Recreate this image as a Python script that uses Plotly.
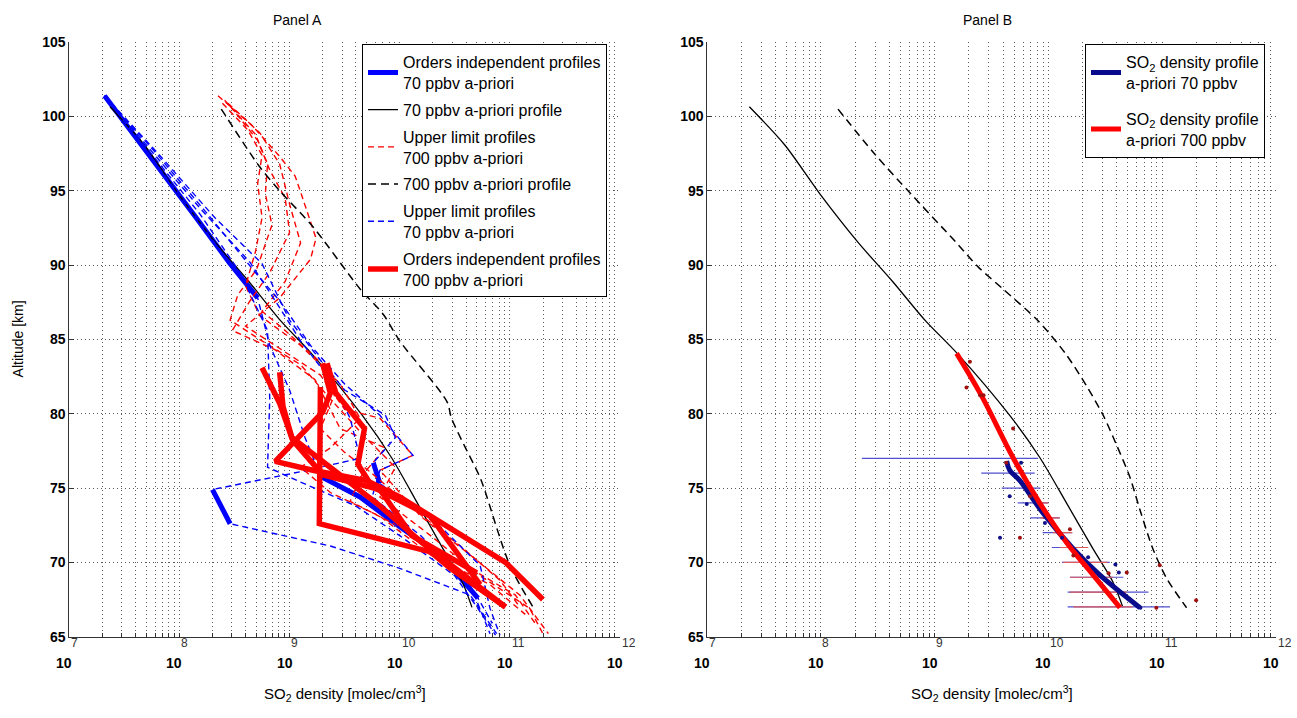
import numpy as np
import plotly.graph_objects as go

# ---------------- data (log10 of SO2 density in molec/cm3, altitude km) ----------------
# 70 ppbv a-priori profile (both panels)
apr70_alt = [100.66, 98.1, 94.8, 91.5, 88.9, 86.25, 84.08, 79.87, 77.04, 73.95, 70.92, 68.68, 66.97]
apr70_log = [7.37, 7.68, 7.99, 8.33, 8.63, 8.92, 9.196, 9.662, 9.926, 10.163, 10.392, 10.568, 10.656]

# 700 ppbv a-priori profile as drawn in panel A
apr700A_alt = [100.5, 96.6, 95.0, 92.6, 88.4, 86.7, 84.9, 80.8, 79.7, 75.7, 74.9, 69.8, 67.0]
apr700A_log = [8.38, 8.73, 8.91, 9.21, 9.64, 9.85, 10.0, 10.43, 10.47, 10.73, 10.77, 11.0, 11.21]

# 700 ppbv a-priori profile as drawn in panel B
apr700B_alt = [100.5, 97.5, 94.8, 91.6, 89.9, 88.4, 86.25, 84.06, 81.86, 79.89, 77.9, 75.72, 73.53, 70.9, 68.93, 66.95]
apr700B_log = [8.15, 8.47, 8.79, 9.18, 9.38, 9.60, 9.91, 10.15, 10.337, 10.483, 10.60, 10.718, 10.806, 10.92, 11.04, 11.216]

# Panel A: upper limit profiles, 70 ppbv a-priori (blue dashed)
blue_alt = [
    [101.4, 97.6, 93.4, 89.5, 85.6, 81.0, 76.4, 75.4, 73.8, 71.8, 69.1, 66.9, 65.1],
    [101.4, 97.6, 93.4, 89.5, 87.6, 84.6, 82.0, 79.9, 77.2, 76.2, 74.4, 71.8, 68.5, 65.2],
    [101.4, 97.8, 93.8, 90.2, 87.6, 84.9, 82.3, 79.7, 77.0, 76.1, 74.9, 72.6, 71.1, 69.6, 67.8, 65.2],
    [101.4, 97.4, 93.2, 90.1, 86.3, 83.6, 81.6, 79.9, 78.4, 76.7, 75.3, 72.4, 69.8, 66.9, 65.1],
    [101.4, 97.4, 93.3, 90.1, 87.8, 84.6, 81.6, 78.4, 75.8, 74.4, 72.4, 70.5, 67.6, 65.9],
]
blue_log = [
    [7.32, 7.73, 8.19, 8.55, 8.80, 8.82, 8.80, 9.10, 9.60, 10.00, 10.50, 10.71, 10.87],
    [7.32, 7.78, 8.26, 8.69, 8.91, 9.19, 9.50, 9.82, 10.12, 9.82, 9.75, 10.19, 10.64, 10.82],
    [7.32, 7.73, 8.19, 8.64, 8.87, 9.10, 9.37, 9.55, 9.64, 9.10, 8.30, 8.46, 9.37, 10.00, 10.64, 10.88],
    [7.32, 7.82, 8.32, 8.75, 9.00, 9.28, 9.50, 9.87, 9.96, 9.76, 9.82, 10.37, 10.73, 10.82, 10.91],
    [7.32, 7.73, 8.14, 8.46, 8.71, 8.82, 9.00, 9.14, 9.28, 9.64, 10.00, 10.37, 10.71, 10.84],
]
# order-independent parts of the 70 ppbv profiles: (profile, first point, last point)
blue_thick_parts = [(4, 0, 4), (4, 8, 12), (2, 10, 11), (3, 9, 10)]

# Panel A: upper limit profiles, 700 ppbv a-priori (red dashed)
red_alt = [
    [101.4, 99.4, 97.4, 96.0, 94.7, 91.8, 90.4, 87.8, 85.9, 84.6, 82.6, 80.3, 79.7, 77.2, 76.2, 73.1, 70.5, 67.8, 65.2],
    [101.1, 98.8, 96.8, 94.8, 92.7, 89.7, 88.0, 86.3, 84.9, 83.3, 81.0, 78.4, 76.4, 74.4, 71.8, 69.1, 66.9, 65.2],
    [100.7, 98.4, 96.4, 94.5, 92.2, 89.5, 87.6, 85.6, 84.3, 82.3, 79.0, 77.7, 75.7, 74.1, 72.4, 69.8, 67.8, 65.9],
    [100.9, 99.1, 97.4, 95.5, 93.2, 90.9, 88.6, 86.6, 84.6, 82.0, 79.7, 77.7, 76.4, 74.7, 73.1, 70.5, 68.5, 66.5],
    [100.9, 98.9, 96.8, 94.1, 91.5, 88.9, 86.9, 85.6, 83.6, 81.3, 79.0, 77.4, 76.1, 73.8, 71.1, 68.8, 67.0],
]
red_log = [
    [8.35, 8.66, 8.90, 9.05, 9.11, 9.24, 9.19, 8.91, 8.60, 8.87, 9.28, 9.50, 9.82, 10.12, 9.82, 10.19, 10.64, 11.09, 11.35],
    [8.41, 8.69, 8.80, 8.78, 8.84, 8.70, 8.53, 8.46, 8.75, 9.10, 9.37, 9.69, 9.96, 9.82, 10.28, 10.73, 11.18, 11.30],
    [8.46, 8.71, 8.82, 8.96, 9.00, 8.82, 8.64, 8.48, 8.87, 9.23, 9.46, 9.87, 9.64, 9.55, 10.00, 10.59, 11.05, 11.23],
    [8.39, 8.62, 8.75, 8.71, 8.75, 8.69, 8.60, 8.73, 9.10, 9.46, 9.64, 9.37, 9.10, 9.37, 9.82, 10.28, 10.82, 11.14],
    [8.44, 8.73, 8.91, 9.00, 9.10, 8.96, 8.75, 8.96, 9.26, 9.41, 9.28, 9.50, 9.73, 10.09, 10.55, 10.91, 11.09],
]

# Panel A: orders independent profiles, 700 ppbv a-priori (red thick)
redthick_alt = [
    [83.1, 80.7, 78.2, 75.9, 74.9, 71.8, 69.3],
    [83.4, 81.4, 79.0, 76.6, 75.1, 73.1, 68.5],
    [81.8, 77.0, 72.6, 71.8, 70.7, 69.6, 67.0],
    [83.4, 81.4, 80.1, 78.2, 76.8, 76.2, 75.5, 74.4, 70.0, 67.5],
    [82.8, 80.5, 78.4, 76.4, 73.8, 71.4, 67.0],
]
redthick_log = [
    [8.75, 8.91, 9.03, 9.30, 9.82, 10.11, 10.70],
    [9.34, 9.42, 9.68, 9.62, 9.75, 10.28, 10.73],
    [9.28, 9.28, 9.27, 9.70, 10.28, 10.46, 10.96],
    [9.30, 9.37, 9.30, 9.05, 8.87, 9.21, 9.70, 10.00, 10.96, 11.30],
    [8.91, 8.94, 9.02, 9.37, 9.82, 10.19, 10.96],
]

# Panel B: retrieved SO2 density profiles
profB700_alt = [84.06, 81.2, 77.04, 73.97, 71.34, 69.14, 66.95]
profB700_log = [9.193, 9.413, 9.69, 9.926, 10.16, 10.395, 10.63]
profB70_alt = [76.82, 76.2, 75.5, 73.3, 70.9, 69.14, 66.95]
profB70_log = [9.633, 9.66, 9.75, 9.955, 10.22, 10.454, 10.806]

# Panel B: error ranges (horizontal bars)
errB70_alt = [77, 76, 75, 74, 73, 72, 71, 70, 69, 68, 67]
errB70_lo = [8.36, 9.41, 9.59, 9.73, 9.84, 9.95, 10.03, 10.12, 10.19, 10.17, 10.17]
errB70_hi = [9.91, 9.88, 9.93, 10.00, 10.10, 10.21, 10.35, 10.54, 10.66, 10.88, 11.07]
errB700_alt = [74, 73, 72, 71, 70, 69, 68, 67]
errB700_lo = [9.88, 9.93, 10.04, 10.10, 10.13, 10.19, 10.19, 10.22]
errB700_hi = [10.00, 10.10, 10.21, 10.35, 10.52, 10.57, 10.69, 10.74]

# Panel B: individual retrievals (dots)
dotsB700_log = [9.31, 9.28, 9.40, 9.43, 9.69, 9.63, 9.84, 9.75, 10.19, 10.22, 10.53, 10.69, 10.98, 10.95, 11.30]
dotsB700_alt = [83.5, 81.76, 81.25, 81.25, 79.0, 76.7, 74.45, 71.66, 72.22, 70.46, 69.26, 69.32, 69.8, 66.95, 67.45]
dotsB70_log = [9.76, 9.66, 9.81, 9.575, 9.97, 10.12, 10.35, 10.59, 10.62, 10.72, 10.81]
dotsB70_alt = [76.7, 74.45, 73.93, 71.66, 72.65, 71.66, 70.35, 69.85, 69.32, 67.5, 66.95]

tick_exponents = [7, 8, 9, 10, 11, 12]
y_ticks = [65, 70, 75, 80, 85, 90, 95, 100, 105]

# ---------------- figure ----------------
def d(v):
    return [None if a is None else 10 ** a for a in v]

FONT = "Liberation Sans, Arial, Helvetica, sans-serif"
BLUE, RED = "#0000ff", "#ff0000"
fig = go.Figure()

LA = "Orders independent profiles<br>70 ppbv a-priori"
for k, (p, i0, i1) in enumerate(blue_thick_parts):
    fig.add_trace(go.Scatter(
        x=d(blue_log[p][i0:i1 + 1]), y=blue_alt[p][i0:i1 + 1], mode="lines",
        line=dict(color=BLUE, width=5), name=LA, legendgroup="g1", showlegend=(k == 0),
        xaxis="x", yaxis="y", legend="legend"))
fig.add_trace(go.Scatter(x=d(apr70_log), y=apr70_alt, mode="lines",
                         line=dict(color="black", width=1.3, shape="spline", smoothing=0.8),
                         name="70 ppbv a-priori profile", legendgroup="g2", xaxis="x", yaxis="y",
                         legend="legend"))
for k in range(len(red_log)):
    fig.add_trace(go.Scatter(x=d(red_log[k]), y=red_alt[k], mode="lines",
                             line=dict(color=RED, width=1.4, dash="6px,4px"),
                             name="Upper limit profiles<br>700 ppbv a-priori", legendgroup="g3",
                             showlegend=(k == 0), xaxis="x", yaxis="y", legend="legend"))
fig.add_trace(go.Scatter(x=d(apr700A_log), y=apr700A_alt, mode="lines",
                         line=dict(color="black", width=1.5, dash="8px,5px", shape="spline", smoothing=0.8),
                         name="700 ppbv a-priori profile", legendgroup="g4", xaxis="x", yaxis="y",
                         legend="legend"))
for k in range(len(blue_log)):
    fig.add_trace(go.Scatter(x=d(blue_log[k]), y=blue_alt[k], mode="lines",
                             line=dict(color=BLUE, width=1.4, dash="6px,4px"),
                             name="Upper limit profiles<br>70 ppbv a-priori", legendgroup="g5",
                             showlegend=(k == 0), xaxis="x", yaxis="y", legend="legend"))
for k in range(len(redthick_log)):
    fig.add_trace(go.Scatter(x=d(redthick_log[k]), y=redthick_alt[k], mode="lines",
                             line=dict(color=RED, width=5.5),
                             name="Orders independent profiles<br>700 ppbv a-priori", legendgroup="g6",
                             showlegend=(k == 0), xaxis="x", yaxis="y", legend="legend"))

# ---- Panel B ----
fig.add_trace(go.Scatter(x=d(apr70_log), y=apr70_alt, mode="lines",
                         line=dict(color="black", width=1.3, shape="spline", smoothing=0.8),
                         showlegend=False, xaxis="x2", yaxis="y2"))
fig.add_trace(go.Scatter(x=d(apr700B_log), y=apr700B_alt, mode="lines",
                         line=dict(color="black", width=1.5, dash="8px,5px", shape="spline", smoothing=0.8),
                         showlegend=False, xaxis="x2", yaxis="y2"))
ex, ey = [], []
for a, lo, hi in zip(errB70_alt, errB70_lo, errB70_hi):
    ex += [10 ** lo, 10 ** hi, None]
    ey += [a, a, None]
fig.add_trace(go.Scatter(x=ex, y=ey, mode="lines", line=dict(color="#4f4fd0", width=1.2),
                         showlegend=False, xaxis="x2", yaxis="y2"))
ex, ey = [], []
for a, lo, hi in zip(errB700_alt, errB700_lo, errB700_hi):
    ex += [10 ** lo, 10 ** hi, None]
    ey += [a, a, None]
fig.add_trace(go.Scatter(x=ex, y=ey, mode="lines", line=dict(color="#e05a5a", width=1.2),
                         showlegend=False, xaxis="x2", yaxis="y2"))
fig.add_trace(go.Scatter(x=d(profB70_log), y=profB70_alt, mode="lines",
                         line=dict(color="#0a0a8c", width=5, shape="spline"),
                         name="SO<sub>2</sub> density profile<br>a-priori 70 ppbv", legendgroup="b1",
                         xaxis="x2", yaxis="y2", legend="legend2"))
fig.add_trace(go.Scatter(x=d(profB700_log), y=profB700_alt, mode="lines",
                         line=dict(color=RED, width=5, shape="spline"),
                         name="SO<sub>2</sub> density profile<br>a-priori 700 ppbv", legendgroup="b2",
                         xaxis="x2", yaxis="y2", legend="legend2"))
fig.add_trace(go.Scatter(x=d(dotsB70_log), y=dotsB70_alt, mode="markers",
                         marker=dict(color="#10108a", size=4), showlegend=False, xaxis="x2", yaxis="y2"))
fig.add_trace(go.Scatter(x=d(dotsB700_log), y=dotsB700_alt, mode="markers",
                         marker=dict(color="#a01010", size=4), showlegend=False, xaxis="x2", yaxis="y2"))

# ---------------- axes ----------------
minor_vals = [m * 10 ** e for e in tick_exponents[:-1] for m in range(1, 10)] + [10 ** tick_exponents[-1]]
GRID = dict(showgrid=True, gridcolor="#5a5a5a", griddash="1px,3px", gridwidth=1)
xcommon = dict(type="log", range=[7, 12], tickvals=minor_vals, showticklabels=False,
               ticks="inside", ticklen=4, tickcolor="#333", showline=True, linecolor="#333",
               linewidth=1, zeroline=False, **GRID)
ycommon = dict(range=[65, 105], tickvals=y_ticks, ticks="inside", ticklen=5, tickcolor="#333",
               showline=True, linecolor="#333", linewidth=1, zeroline=False,
               tickfont=dict(family=FONT, size=14, color="black", weight="bold"), **GRID)

W, H = 1297, 718
xa = [69.3 / W, 620 / W]
xb = [707.3 / W, 1275.7 / W]
yd = [(H - 643) / H, (H - 35) / H]

ann = []
for xref in ("x", "x2"):
    for e in tick_exponents:
        ann.append(dict(x=e, y=(H - 670) / H, xref=xref, yref="paper", text="<b>10</b>", showarrow=False,
                        xanchor="center", yanchor="middle",
                        font=dict(family=FONT, size=14, color="black"), xshift=-5))
        ann.append(dict(x=e, y=(H - 649) / H, xref=xref, yref="paper", text=str(e), showarrow=False,
                        xanchor="center", yanchor="middle",
                        font=dict(family=FONT, size=12, color="#333"), xshift=5 if e < 10 else 9))
xtitle = "SO<sub>2</sub> density [molec/cm<sup>3</sup>]"
for cx in (345, 991.5):
    ann.append(dict(x=cx / W, y=(H - 701) / H, xref="paper", yref="paper", text=xtitle, showarrow=False,
                    xanchor="center", yanchor="middle", font=dict(family=FONT, size=15, color="black")))
ann.append(dict(x=18 / W, y=(H - 339) / H, xref="paper", yref="paper", text="Altitude [km]",
                xanchor="center", yanchor="middle",
                textangle=-90, showarrow=False, font=dict(family=FONT, size=14, color="black")))
ann.append(dict(x=297 / W, y=(H - 12) / H, xref="paper", yref="paper", text="Panel A", showarrow=False,
                xanchor="center", yanchor="middle", font=dict(family=FONT, size=14, color="black")))
ann.append(dict(x=988 / W, y=(H - 12) / H, xref="paper", yref="paper", text="Panel B", showarrow=False,
                xanchor="center", yanchor="middle", font=dict(family=FONT, size=14, color="black")))

fig.update_layout(
    width=W, height=H, margin=dict(l=0, r=0, t=0, b=0),
    paper_bgcolor="white", plot_bgcolor="white",
    font=dict(family=FONT, color="black"),
    xaxis=dict(domain=xa, anchor="y", **xcommon),
    yaxis=dict(domain=yd, anchor="x", **ycommon),
    xaxis2=dict(domain=xb, anchor="y2", **xcommon),
    yaxis2=dict(domain=yd, anchor="x2", **ycommon),
    legend=dict(x=362 / W, y=(H - 37) / H, xanchor="left", yanchor="top", bgcolor="white",
                bordercolor="black", borderwidth=1, font=dict(family=FONT, size=16, color="black"),
                traceorder="grouped", tracegroupgap=3, valign="middle"),
    legend2=dict(x=1085 / W, y=(H - 37) / H, xanchor="left", yanchor="top", bgcolor="white",
                 bordercolor="black", borderwidth=1, font=dict(family=FONT, size=16, color="black"),
                 traceorder="grouped", tracegroupgap=12, valign="middle"),
    annotations=ann,
    showlegend=True,
)

fig.write_html("out.html")
